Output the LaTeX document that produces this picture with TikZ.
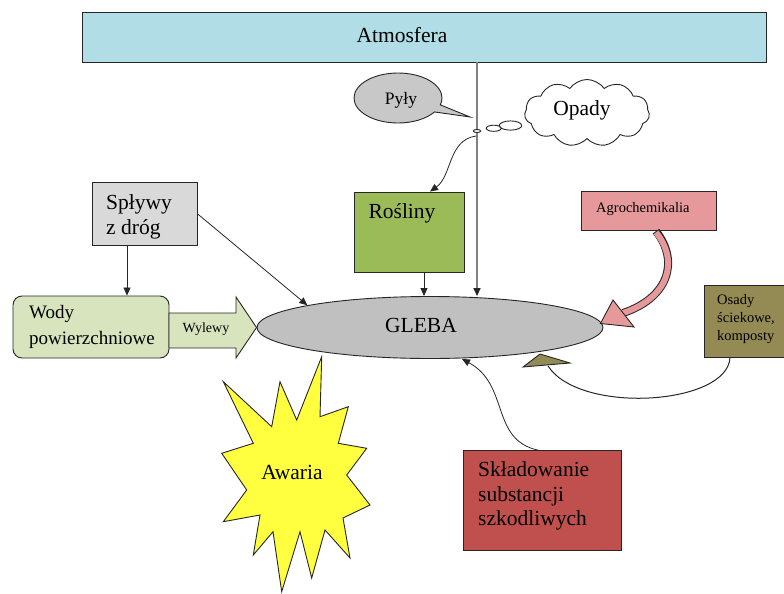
\documentclass[tikz,border=0pt]{standalone}
\usepackage{fontspec}
\setmainfont{Liberation Serif}
\usetikzlibrary{shapes.geometric,shapes.callouts,shapes.symbols,arrows.meta,calc}
\definecolor{atmc}{HTML}{B1DDE6}
\definecolor{pylyc}{HTML}{C8C8C8}
\definecolor{rosc}{HTML}{9BBB59}
\definecolor{splc}{HTML}{D9D9D9}
\definecolor{wodyc}{HTML}{D7E4BD}
\definecolor{glebac}{HTML}{C0C0C0}
\definecolor{agroc}{HTML}{E6999B}
\definecolor{osadyc}{HTML}{948A54}
\definecolor{sklc}{HTML}{C0504D}
\definecolor{starc}{HTML}{FFFF40}
\definecolor{linec}{HTML}{262626}
\begin{document}
\begin{tikzpicture}[x=1pt,y=-1pt,
  box/.style={draw=linec, line width=0.9pt, inner sep=0pt},
  arr/.style={draw=linec, line width=0.8pt, -{Triangle[length=8pt,width=7pt]}},
  lbl/.style={inner sep=0pt, text=black, align=left},
  big/.style={font=\fontsize{21.5}{24.5}\selectfont},
  mid/.style={font=\fontsize{17.5}{22}\selectfont},
  small/.style={font=\fontsize{14.5}{18}\selectfont}]
\useasboundingbox (0,0) rectangle (784,594);

% Atmosfera
\node[box, fill=atmc, minimum width=684, minimum height=50] (atm) at (424,37) {};
\node[lbl, big] (atmt) at (402,35) {Atmosfera};

% GLEBA
\node[ellipse, box, fill=glebac, minimum width=346, minimum height=62] (gleba) at (430,327.5) {};
\node[lbl, big] (glebat) at (421,325) {GLEBA};

% vertical line from atmosphere
\coordinate (vx) at (477,0);
\draw[line width=1.5pt, draw=gray, -{Triangle[length=8pt,width=7pt,color=linec]}] (atm.south -| vx) -- (gleba.north -| vx);

% Pyly
\node[ellipse callout, box, fill=pylyc, minimum width=88, minimum height=50,
      callout absolute pointer={(470,117)}, callout pointer arc=18] (pyly) at (398,98) {};
\node[lbl, mid] (pylyt) at (401,100) {Pyły};

% Opady
\node[cloud callout, box, fill=white, cloud puffs=11, cloud puff arc=110, aspect=1.9,
      minimum width=125, minimum height=67,
      callout absolute pointer={(477,131)},
      callout pointer start size=.24 of callout,
      callout pointer end size=.06 of callout,
      callout pointer segments=3] (opady) at (587,113) {};
\node[lbl, big] (opadyt) at (582,110) {Opady};

% Rosliny
\node[box, fill=rosc, minimum width=110, minimum height=80] (ros) at (409,232) {};
\node[lbl, big] (rost) at (402,213) {Rośliny};
\coordinate (c0) at (476,136);
\draw[arr] (c0) .. controls (448,140) and (452,176) .. ($(ros.north)+(21,0)$);
\coordinate (rx) at (424,0);
\draw[arr] (ros.south -| rx) -- (gleba.north -| rx);

% Splywy
\node[box, fill=splc, minimum width=105, minimum height=63] (spl) at (145,214.2) {};
\node[lbl, big, anchor=west] (splt) at (106,217) {Spływy\\z dróg};

% Wody
\node[box, fill=wodyc, rounded corners=9pt, minimum width=156, minimum height=62] (wody) at (91,327) {};
\node[lbl, font=\fontsize{19}{26}\selectfont, anchor=west] (wodyt) at (29,327) {Wody\\powierzchniowe};
\coordinate (sx) at ($(spl.south)+(-18,0)$);
\draw[arr] (sx) -- (sx |- wody.north);
\draw[arr] (spl.east) -- (gleba.north west);

% Wylewy block arrow
\draw[box, fill=wodyc, line join=miter] (169,313) -- (236,313) -- (236,297) -- (gleba.west) -- (236,358) -- (236,348) -- (169,348) -- cycle;
\node[lbl, font=\fontsize{14}{17}\selectfont] (wylt) at (206,329) {Wylewy};

% Agrochemikalia
\node[box, fill=agroc, minimum width=135, minimum height=39] (agro) at (649,211.2) {};
\node[lbl, small, anchor=west] (agrot) at (596,209) {Agrochemikalia};
\coordinate (ag0) at ($(agro.south)+(7,0)$);
\coordinate (ag1) at (623,313);
\draw[line width=8pt, draw=linec] (ag0) .. controls (680,262) and (668,298) .. (ag1);
\draw[line width=6pt, draw=agroc] ($(ag0)+(0,1.2)$) .. controls (680,262) and (668,298) .. (ag1);
\draw[box, fill=agroc, line join=miter] ($(gleba.east)+(-3,-4)$) -- (613,300) -- (634,327) -- cycle;

% Osady
\node[box, fill=osadyc, minimum width=80, minimum height=72] (osady) at (744,321) {};
\node[lbl, small, anchor=west] (osadyt) at (717,319) {Osady\\ściekowe,\\komposty};
\coordinate (os0) at ($(osady.south)+(-14,0)$);
\coordinate (os1) at (548,366);
\draw[draw=linec, line width=1pt] (os0) .. controls (728,405) and (580,415) .. (os1);
\draw[box, fill=osadyc, line join=miter] (523,367) -- (540,354) -- (570,363) -- cycle;

% Skladowanie
\node[box, fill=sklc, minimum width=158, minimum height=100] (skl) at (542.5,500.7) {};
\node[lbl, big, anchor=west] (sklt) at (478,496) {Składowanie\\substancji\\szkodliwych};
\draw[arr] ($(skl.north)+(-4,0)$) .. controls (490,440) and (510,385) .. ($(gleba.south)+(32,0)$);

% Awaria
\draw[box, fill=starc, line join=miter] (223.3,381.7) -- (271.7,426.7) -- (280,381.7) -- (296.7,420) -- (321.7,356.7) -- (320,416.7) -- (348.3,406.7) -- (338.3,443.3) -- (366.7,448.3) -- (346.7,475) -- (370,505) -- (343,518) -- (350,558) -- (325,530) -- (311.7,578) -- (300,531.7) -- (281.7,591.7) -- (273,531.7) -- (253.3,555) -- (260,515) -- (223.3,521.7) -- (246.7,490) -- (221.7,453.3) -- (253.3,443.3) -- cycle;
\node[lbl, big] (awt) at (292,472) {Awaria};
\end{tikzpicture}
\end{document}
